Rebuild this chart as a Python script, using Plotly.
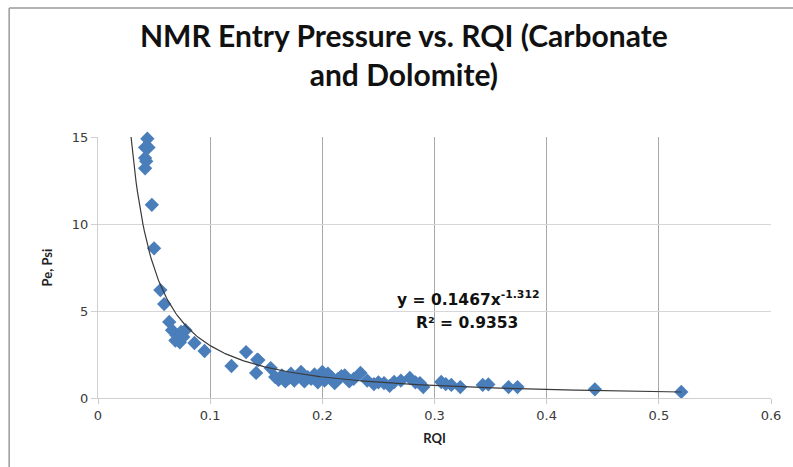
import numpy as np
import plotly.graph_objects as go

# Data
rqi = [0.044, 0.045, 0.042, 0.042, 0.043, 0.042, 0.048, 0.050,
       0.0556, 0.059, 0.0635, 0.066, 0.069, 0.070, 0.072, 0.073, 0.074, 0.076, 0.078,
       0.086, 0.095, 0.119, 0.132, 0.142, 0.141, 0.143, 0.154,
       0.158, 0.161, 0.164, 0.167, 0.170, 0.172, 0.175, 0.178, 0.181, 0.184, 0.187,
       0.190, 0.193, 0.196, 0.198, 0.200, 0.202, 0.205, 0.208, 0.211, 0.214, 0.217,
       0.220, 0.224, 0.228, 0.234, 0.240, 0.246, 0.250, 0.255, 0.260, 0.264,
       0.270, 0.278, 0.283, 0.287, 0.290, 0.306, 0.310, 0.315, 0.323,
       0.343, 0.348, 0.366, 0.374, 0.443, 0.520]
pe = [14.9, 14.4, 14.4, 13.8, 13.6, 13.2, 11.1, 8.6,
      6.2, 5.4, 4.37, 3.9, 3.3, 3.6, 3.4, 3.2, 3.8, 3.5, 3.9,
      3.16, 2.7, 1.84, 2.64, 2.2, 1.44, 2.18, 1.72,
      1.2, 1.05, 1.3, 0.95, 1.15, 1.4, 1.0, 1.25, 1.5, 0.95, 1.2,
      1.1, 1.35, 0.9, 1.3, 1.5, 1.0, 1.4, 1.2, 0.85, 1.1, 1.25,
      1.3, 0.95, 1.1, 1.44, 1.0, 0.8, 0.9, 0.86, 0.7, 0.92,
      1.0, 1.15, 0.9, 0.86, 0.63, 0.92, 0.8, 0.75, 0.63,
      0.75, 0.78, 0.63, 0.63, 0.5, 0.35]

# Power trendline shown on the chart: y = 0.1467 x^-1.312
coef_a = 0.1467
coef_b = -1.312
fit_x = np.linspace(0.029, 0.52, 400)
fit_y = coef_a * fit_x ** coef_b

x_ticks = [0, 0.1, 0.2, 0.3, 0.4, 0.5, 0.6]
y_ticks = [0, 5, 10, 15]

title_text = "NMR Entry Pressure vs. RQI (Carbonate<br>and Dolomite)"

fig = go.Figure()
fig.add_trace(go.Scatter(
    x=rqi, y=pe, mode="markers",
    marker=dict(symbol="diamond", size=11, color="#4a7ebb",
                line=dict(width=0)),
    showlegend=False, cliponaxis=False))
fig.add_trace(go.Scatter(
    x=fit_x, y=fit_y, mode="lines",
    line=dict(color="#3a3a3a", width=1.2),
    showlegend=False))

fig.update_layout(
    width=793, height=467,
    paper_bgcolor="white", plot_bgcolor="white",
    margin=dict(l=98, r=14, t=137, b=69),
    font=dict(family="DejaVu Sans", size=13, color="#3a3a3a"),
    xaxis=dict(range=[0, 0.6], tickvals=x_ticks,
               ticktext=["0", "0.1", "0.2", "0.3", "0.4", "0.5", "0.6"],
               showgrid=True, gridcolor="#a8a8a8", gridwidth=1,
               showline=True, linecolor="#d0d0d0", linewidth=1,
               ticks="outside", ticklen=5, tickcolor="#c8c8c8",
               zeroline=False,
               title=dict(text="<b>RQI</b>", font=dict(family="Lato", size=13, color="#222222"),
                          standoff=12)),
    yaxis=dict(range=[0, 15], tickvals=y_ticks,
               showgrid=True, gridcolor="#d6d6d6", gridwidth=1,
               showline=True, linecolor="#d0d0d0", linewidth=1,
               ticks="outside", ticklen=6, tickcolor="#d0d0d0",
               zeroline=False,
               title=dict(text="<b>Pe, Psi</b>", font=dict(family="Lato", size=13, color="#222222"),
                          standoff=16)),
    annotations=[
        dict(x=(408 - 98) / 681, y=(398 - 54) / 261, xref="paper", yref="paper",
             xanchor="center", yanchor="middle",
             text="<b>" + title_text + "</b>", showarrow=False,
             font=dict(family="Lato", size=30, color="#111111")),
        dict(x=0.330, y=5.7, xref="x", yref="y",
             text="<b>y = 0.1467x<sup>-1.312</sup></b>", showarrow=False,
             font=dict(family="DejaVu Sans", size=15.5, color="#111111")),
        dict(x=0.329, y=4.3, xref="x", yref="y",
             text="<b>R² = 0.9353</b>", showarrow=False,
             font=dict(family="DejaVu Sans", size=15.5, color="#111111")),
    ],
    shapes=[
        dict(type="line", xref="paper", yref="paper",
             x0=-0.132, x1=-0.132, y0=-0.3, y1=1.494,
             line=dict(color="#9a9a9a", width=1.5)),
        dict(type="line", xref="paper", yref="paper",
             x0=-0.132, x1=1.1, y0=1.494, y1=1.494,
             line=dict(color="#9a9a9a", width=1.5)),
    ],
)

fig.write_html("out.html")
